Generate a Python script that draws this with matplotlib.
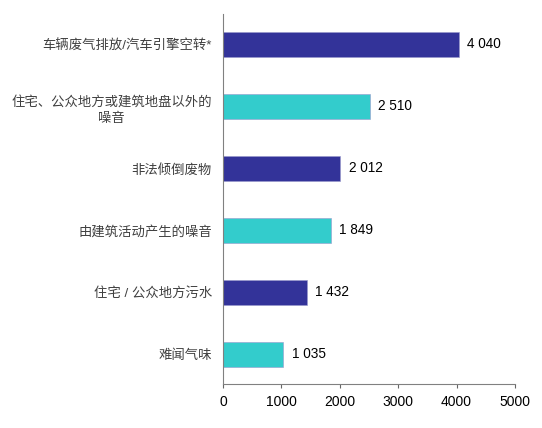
import matplotlib
matplotlib.use("Agg")
import matplotlib.pyplot as plt

plt.rcParams['font.family'] = ['Liberation Sans', 'Noto Sans CJK SC', 'DejaVu Sans']

categories = ["车辆废气排放/汽车引擎空转*",
              "住宅、公众地方或建筑地盘以外的\n噪音",
              "非法倾倒废物",
              "由建筑活动产生的噪音",
              "住宅 / 公众地方污水",
              "难闻气味"]
values = [4040, 2510, 2012, 1849, 1432, 1035]
value_labels = ["4 040", "2 510", "2 012", "1 849", "1 432", "1 035"]
xticks = [0, 1000, 2000, 3000, 4000, 5000]
colors = ["#333399", "#33CCCC", "#333399", "#33CCCC", "#333399", "#33CCCC"]

fig = plt.figure(figsize=(5.42, 4.28), dpi=100)
ax = fig.add_axes([0.4114, 0.1028, 0.5388, 0.8642])

ypos = list(range(len(categories)))[::-1]
ax.barh(ypos, values, height=0.40, color=colors, edgecolor="#9999CC", linewidth=0.4)
for y, v, lab in zip(ypos, values, value_labels):
    ax.annotate(lab, (v, y), xytext=(6, 0), textcoords="offset points",
                ha="left", va="center", fontsize=9.8, color="black")

ax.set_xlim(0, 5000)
ax.set_ylim(-0.48, 5.49)
ax.set_xticks(xticks)
ax.set_xticklabels([str(t) for t in xticks], fontsize=10)
ax.set_yticks(ypos)
ax.set_yticklabels(categories, fontsize=9.6, color="#404040",
                   multialignment="center", linespacing=1.45)
ax.tick_params(axis="y", length=0, pad=8)
ax.tick_params(axis="x", length=3, direction="out", color="#666666", pad=5)
for s in ["top", "right"]:
    ax.spines[s].set_visible(False)
ax.spines["left"].set_color("#808080")
ax.spines["bottom"].set_color("#808080")

fig.savefig("out.png", dpi=100)
